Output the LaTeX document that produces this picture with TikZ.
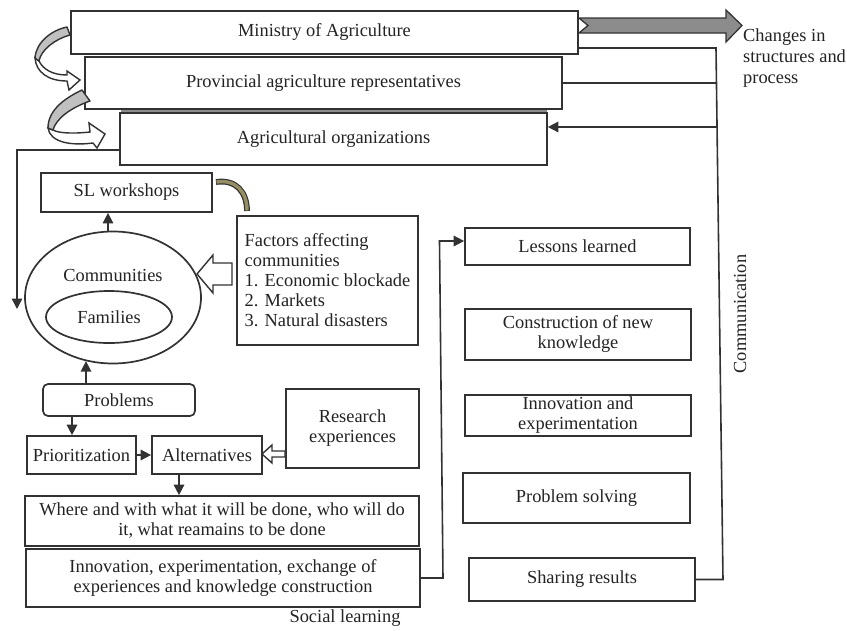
\documentclass[tikz,border=0pt]{standalone}
\usepackage{fontspec}
\setmainfont{Liberation Serif}
\usetikzlibrary{shapes.geometric,arrows.meta}
\definecolor{lc}{RGB}{50,50,50}
\definecolor{tc}{RGB}{35,35,35}
\definecolor{darkg}{RGB}{140,140,140}
\definecolor{lightg}{RGB}{192,192,192}
\definecolor{olivec}{RGB}{150,143,100}
\newcommand{\fsz}{\fontsize{18.4}{20}\selectfont}
\tikzset{
  box/.style={draw=lc, line width=1.7pt, fill=white, inner sep=0pt, text=tc, font=\fsz, align=center},
  txt/.style={inner sep=0pt, text=tc, font=\fsz},
  conn/.style={draw=lc, line width=1.6pt},
  arr/.style={conn, -{Triangle[length=10.5pt,width=10.5pt]}},
  hollow/.style={draw=lc, line width=1.4pt, fill=white, line join=miter},
}
\begin{document}
\begin{tikzpicture}[x=1pt,y=-1pt]
\useasboundingbox (0,0) rectangle (847,630);

% top hierarchy
\node[box, minimum width=507pt, minimum height=43pt] (min) at (324.5,32.5) {Ministry of Agriculture};
\node[box, minimum width=477pt, minimum height=52pt] (prov) at (323.5,83) {Provincial agriculture representatives};
\draw[draw=darkg, line width=1.8pt] (121,110.8) -- (547,110.8);
\node[box, minimum width=427pt, minimum height=52pt] (agri) at (333.5,139) {Agricultural organizations};

% big grey arrow
\draw[draw=lc, line width=1.3pt, fill=darkg, line join=miter]
  (579,18) -- (726,18) -- (726,10) -- (742,25.5) -- (726,42) -- (726,33) -- (579,33) -- (588,25.5) -- cycle;
\node[txt, anchor=north west, align=left, font=\fontsize{18.4}{21}\selectfont] (chg) at (743,29) {Changes in\\structures and\\process};

% curved ribbon arrows (left)
\draw[hollow] (35,58) .. controls (36,72) and (48,81) .. (67,81) -- (69,90) -- (80,80) -- (67,71) -- (67,75) .. controls (52,75) and (43,69) .. (39,61) -- cycle;
\draw[draw=lc, line width=1.4pt, fill=lightg, line join=round]
  (67,27) .. controls (52,30) and (36,42) .. (35,58) -- (39,61) .. controls (41,50) and (55,39) .. (70,35) -- cycle;
\draw[hollow] (48,128) .. controls (50,142) and (70,146) .. (93,143) -- (97,148) -- (105,134) -- (89,123) -- (90,132) .. controls (72,134) and (58,133) .. (53,130) -- cycle;
\draw[draw=lc, line width=1.4pt, fill=lightg, line join=round]
  (82,90) .. controls (65,98) and (48,110) .. (48,128) -- (53,130) .. controls (56,119) and (70,108) .. (90,101) -- cycle;

% left frame line
\coordinate (fa) at (120,150);
\coordinate (fb) at (17,150);
\coordinate (fc) at (17,309);
\draw[arr] (fa) -- (fb) -- (fc);

% SL workshops, communities
\node[box, minimum width=171pt, minimum height=39pt] (slw) at (126.5,192.5) {SL workshops};
\node[box, minimum width=181pt, minimum height=129pt, align=left] (fac) at (327.5,280.5) {Factors affecting\\communities\\1. Economic blockade\\2. Markets\\3. Natural disasters};
\draw[line width=5.8pt, draw=lc] (216,182) .. controls (236,179) and (247,192) .. (247,211);
\draw[line width=3.4pt, draw=olivec] (216.5,182) .. controls (236,179) and (247,192) .. (247,210.5);

\node[ellipse, draw=lc, line width=1.7pt, minimum width=176pt, minimum height=132pt, inner sep=0pt] (comm) at (113,297.5) {};
\node[txt] (commt) at (113,275) {Communities};
\node[ellipse, draw=lc, line width=1.7pt, minimum width=126pt, minimum height=52pt, inner sep=0pt, text=tc, font=\fsz] (fam) at (109,317) {Families};
\draw[arr] ([xshift=-5pt]comm.north) -- ([xshift=-5pt]comm.north |- slw.south);
\draw[hollow] (232,263) -- (213,263) -- (213,255) -- (197,274) -- (213,293) -- (213,285) -- (232,285) -- cycle;

% problems chain
\node[box, rounded corners=5pt, minimum width=152pt, minimum height=32pt] (prob) at (119,400) {Problems};
\draw[arr] ([xshift=-33pt]prob.north) -- ++(0,-22);
\node[box, minimum width=109pt, minimum height=38pt] (prio) at (81.5,455) {Prioritization};
\node[box, minimum width=110pt, minimum height=38pt] (alt) at (207,455) {Alternatives};
\node[box, minimum width=133pt, minimum height=79pt] (res) at (352.5,428.5) {Research\\experiences};
\draw[arr] ([xshift=-47pt]prob.south) -- ([xshift=-47pt]prob.south |- prio.north);
\draw[arr] (prio.east) -- (alt.west);
\draw[hollow] (285,451) -- (272,451) -- (272,445) -- (262,454) -- (272,463) -- (272,457) -- (285,457) -- cycle;
\node[box, minimum width=394pt, minimum height=50pt] (where) at (222,521) {Where and with what it will be done, who will do\\it, what reamains to be done};
\draw[arr] ([xshift=-28pt]alt.south) -- ([xshift=-28pt]alt.south |- where.north);
\node[box, minimum width=394pt, minimum height=58pt] (inn) at (223,578) {Innovation, experimentation, exchange of\\experiences and knowledge construction};

% right column
\node[box, minimum width=225pt, minimum height=37pt] (les) at (577.5,246.5) {Lessons learned};
\node[box, minimum width=226pt, minimum height=51pt] (con) at (578,334.5) {Construction of new\\knowledge};
\node[box, minimum width=226pt, minimum height=41pt] (ie) at (578,415.5) {Innovation and\\experimentation};
\node[box, minimum width=227pt, minimum height=50pt] (ps) at (576.5,498) {Problem solving};
\node[box, minimum width=226pt, minimum height=43pt] (sr) at (582,579.5) {Sharing results};

\coordinate (s1) at (443,578);
\coordinate (s2) at (439.5,241);
\draw[arr] (inn.east) -- (s1) -- (s2) -- (les.west |- s2);

\coordinate (rb) at (723,579.5);
\coordinate (rt) at (716,48);
\coordinate (rp) at (716.5,83);
\coordinate (ra) at (717,127);
\draw[conn] (sr.east) -- (rb) -- (rt) -- (min.east |- rt);
\draw[conn] (rp) -- (prov.east |- rp);
\draw[arr] (ra) -- (agri.east |- ra);

\node[txt, rotate=90] (comt) at (740,314) {Communication};
\node[txt] (slt) at (345,618) {Social learning};
\end{tikzpicture}
\end{document}
